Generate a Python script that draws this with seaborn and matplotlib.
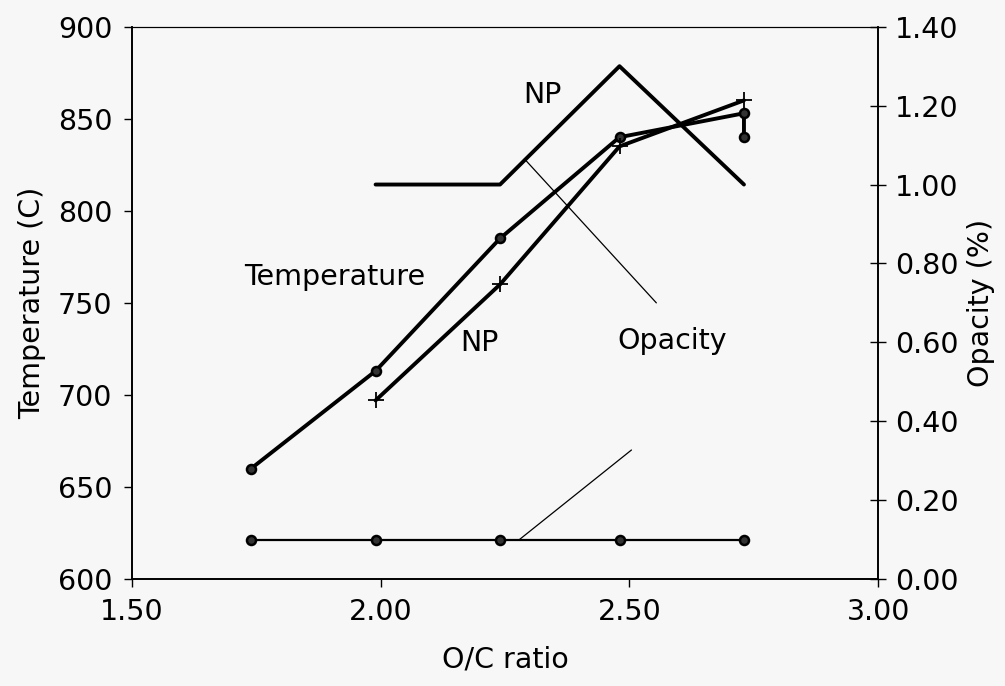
import matplotlib
matplotlib.use("Agg")
import matplotlib.pyplot as plt
import seaborn as sns
import numpy as np

# ---- data ----
temp_x = [1.74, 1.99, 2.24, 2.48, 2.73, 2.73]
temp_y = [660, 713, 785, 840, 853, 840]

np_x = [1.99, 2.24, 2.48, 2.73]
np_y = [697, 760, 835, 860]

upper_x = [1.99, 2.24, 2.48, 2.73]
upper_y = [1.00, 1.00, 1.30, 1.00]

opacity_x = [1.74, 1.99, 2.24, 2.48, 2.73]
opacity_y = [0.10, 0.10, 0.10, 0.10, 0.10]

x_ticks = [1.50, 2.00, 2.50, 3.00]
left_ticks = [600, 650, 700, 750, 800, 850, 900]
right_ticks = [0.00, 0.20, 0.40, 0.60, 0.80, 1.00, 1.20, 1.40]

sns.set_theme(style="white")
plt.rcParams['font.family'] = ['DejaVu Sans']
plt.rcParams['text.color'] = 'black'
plt.rcParams['axes.labelcolor'] = 'black'
plt.rcParams['xtick.color'] = 'black'
plt.rcParams['ytick.color'] = 'black'
BG = "#f7f7f7"
FS = 20.5

fig = plt.figure(figsize=(10.05, 6.86), dpi=100, facecolor=BG)
ax = fig.add_axes([0.131, 0.156, 0.743, 0.805])
ax.set_facecolor(BG)
ax2 = ax.twinx()

lw = 2.8
sns.lineplot(x=temp_x, y=temp_y, ax=ax, estimator=None, sort=False, color="black",
             lw=lw, marker="o", markersize=6.5, markeredgecolor="black", markerfacecolor="#333333",
             markeredgewidth=1.8)
sns.lineplot(x=np_x, y=np_y, ax=ax, estimator=None, sort=False, color="black",
             lw=lw, marker="+", markersize=11, markeredgecolor="black", markeredgewidth=1.3)
sns.lineplot(x=upper_x, y=upper_y, ax=ax2, estimator=None, sort=False, color="black", lw=lw)
sns.lineplot(x=opacity_x, y=opacity_y, ax=ax2, estimator=None, sort=False, color="black",
             lw=1.6, marker="o", markersize=6.5, markeredgecolor="black", markerfacecolor="#333333",
             markeredgewidth=1.8)

ax.set_xlim(1.5, 3.0)
ax.set_ylim(600, 900)
ax2.set_ylim(0, 1.4)
ax.set_xticks(x_ticks)
ax.set_xticklabels([f"{v:.2f}" for v in x_ticks], fontsize=FS)
ax.set_yticks(left_ticks)
ax.set_yticklabels([str(v) for v in left_ticks], fontsize=FS)
ax2.set_yticks(right_ticks)
ax2.set_yticklabels([f"{v:.2f}" for v in right_ticks], fontsize=FS)

ax.set_xlabel("O/C ratio", fontsize=FS, labelpad=14)
ax.set_ylabel("Temperature (C)", fontsize=FS, labelpad=8)
ax2.set_ylabel("Opacity (%)", fontsize=FS, labelpad=6)

for a in (ax, ax2):
    for s in a.spines.values():
        s.set_color("black")
        s.set_linewidth(1.2)
    a.spines["top"].set_linewidth(0.8)
ax.tick_params(axis="both", which="both", direction="out", length=6, width=1, color="black",
               left=True, bottom=True, pad=8)
ax2.tick_params(axis="y", direction="inout", length=12, width=1, color="black", right=True, pad=6)

# annotations
ax.text(1.908, 764, "Temperature", fontsize=FS, ha="center", va="center")
ax.text(2.198, 728, "NP", fontsize=FS, ha="center", va="center")
ax.text(2.325, 863, "NP", fontsize=FS, ha="center", va="center")
ax2.text(2.585, 0.604, "Opacity", fontsize=FS, ha="center", va="center")
ax2.annotate("", xy=(2.289, 1.065), xytext=(2.554, 0.70),
             arrowprops=dict(arrowstyle="-", color="black", lw=0.9, shrinkA=0, shrinkB=0))
ax2.annotate("", xy=(2.279, 0.10), xytext=(2.504, 0.327),
             arrowprops=dict(arrowstyle="-", color="black", lw=0.9, shrinkA=0, shrinkB=0))

fig.savefig("out.png", dpi=100, facecolor=BG)
